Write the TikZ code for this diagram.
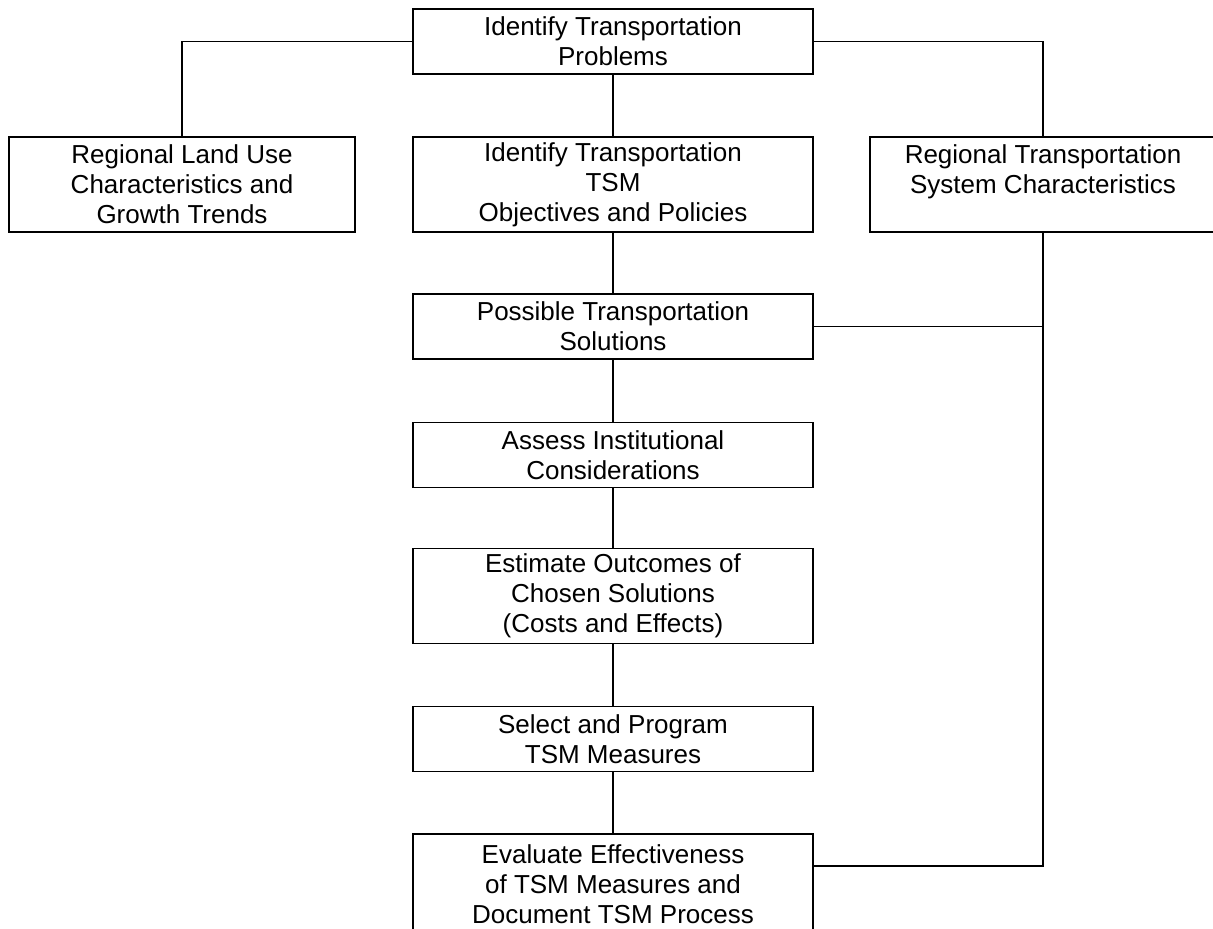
\documentclass[tikz,border=0pt]{standalone}
\usepackage{fontspec}
\setmainfont{Liberation Sans}
\usetikzlibrary{positioning, calc}

\tikzset{
  stagebox/.style={draw=black, line width=0.8pt, align=center, inner sep=0pt,
    font=\fontsize{13}{15}\selectfont, minimum width=200pt, minimum height=32.5pt},
  tallbox/.style={stagebox, minimum height=47.5pt},
  sidebox/.style={tallbox, minimum width=173pt},
  link/.style={draw=black, line width=0.8pt}
}

\begin{document}
\begin{tikzpicture}[x=0.5pt, y=-0.5pt]
  \useasboundingbox (0,0) rectangle (1213,928);

  % Main column
  \node[stagebox] (problems) at (613,41.5) {Identify Transportation\\Problems};
  \node[tallbox] (objectives) at (613,184.5) {Identify Transportation\\TSM\\Objectives and Policies};
  \node[stagebox] (solutions) at (613,326.5) {Possible Transportation\\Solutions};
  \node[stagebox] (institutional) at (613,455) {Assess Institutional\\Considerations};
  \node[tallbox] (outcomes) at (613,596) {Estimate Outcomes of\\Chosen Solutions\\(Costs and Effects)};
  \node[stagebox] (program) at (613,739) {Select and Program\\TSM Measures};
  \node[tallbox, minimum height=50pt] (evaluate) at (613,884) {Evaluate Effectiveness\\of TSM Measures and\\Document TSM Process};

  % Side inputs
  \node[sidebox] (landuse) at (182,184.5) {Regional Land Use\\Characteristics and\\Growth Trends};
  \node[sidebox] (system) at (1043,184.5) {Regional Transportation\\System Characteristics\\ \mbox{}};

  \coordinate (evalin) at ([yshift=-16.5pt]evaluate.north east);

  % Connectors
  \draw[link] (problems.west) -| (landuse.north);
  \draw[link] (problems.east) -| (system.north);
  \draw[link] (problems) -- (objectives) -- (solutions) -- (institutional)
    -- (outcomes) -- (program) -- (evaluate);
  \draw[link] (solutions.east) -- (solutions.east -| system.south);
  \draw[link] (system.south) |- (evalin);
\end{tikzpicture}
\end{document}
